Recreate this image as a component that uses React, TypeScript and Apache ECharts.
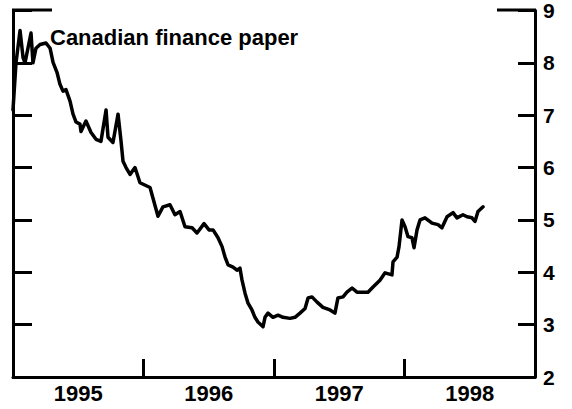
import React, { useEffect, useRef } from "react";
import * as echarts from "echarts";

const years = ["1995", "1996", "1997", "1998"];

// decimal year
const dates = [
  1995.0, 1995.023, 1995.054, 1995.077, 1995.092, 1995.138, 1995.153, 1995.176, 1995.207, 1995.253,
  1995.284, 1995.307, 1995.337, 1995.36, 1995.383, 1995.406, 1995.437, 1995.46, 1995.483, 1995.513,
  1995.521, 1995.559, 1995.598, 1995.636, 1995.674, 1995.713, 1995.728, 1995.766, 1995.805, 1995.828,
  1995.843, 1995.866, 1995.897, 1995.935, 1995.973, 1996.05, 1996.111, 1996.149, 1996.203, 1996.241,
  1996.28, 1996.318, 1996.372, 1996.41, 1996.464, 1996.502, 1996.533, 1996.571, 1996.602, 1996.625,
  1996.648, 1996.686, 1996.716, 1996.739, 1996.755, 1996.778, 1996.801, 1996.831, 1996.854, 1996.877,
  1996.916, 1996.931, 1996.954, 1996.992, 1997.031, 1997.069, 1997.123, 1997.161, 1997.199, 1997.238,
  1997.261, 1997.291, 1997.33, 1997.375, 1997.429, 1997.467, 1997.49, 1997.529, 1997.559, 1997.598,
  1997.636, 1997.682, 1997.72, 1997.759, 1997.812, 1997.851, 1997.904, 1997.912, 1997.943, 1997.958,
  1997.981, 1998.004, 1998.027, 1998.057, 1998.073, 1998.096, 1998.119, 1998.157, 1998.211, 1998.257,
  1998.287, 1998.326, 1998.372, 1998.402, 1998.448, 1998.479, 1998.517, 1998.54, 1998.563, 1998.602,
];

const rates = [
  7.1, 8.0, 8.62, 8.1, 8.0, 8.57, 8.0, 8.28, 8.35, 8.38,
  8.28, 8.01, 7.82, 7.59, 7.46, 7.49, 7.27, 7.02, 6.87, 6.83,
  6.69, 6.89, 6.67, 6.54, 6.5, 7.1, 6.58, 6.48, 7.02, 6.5,
  6.12, 6.0, 5.87, 6.0, 5.71, 5.62, 5.07, 5.25, 5.29, 5.1,
  5.16, 4.87, 4.85, 4.75, 4.93, 4.81, 4.81, 4.66, 4.49, 4.29,
  4.14, 4.1, 4.04, 4.08, 3.85, 3.6, 3.41, 3.28, 3.14, 3.05,
  2.96, 3.14, 3.22, 3.14, 3.18, 3.14, 3.12, 3.14, 3.22, 3.31,
  3.51, 3.53, 3.43, 3.33, 3.28, 3.22, 3.51, 3.53, 3.62, 3.7,
  3.62, 3.62, 3.62, 3.72, 3.85, 3.99, 3.95, 4.2, 4.29, 4.49,
  5.0, 4.87, 4.68, 4.66, 4.47, 4.81, 5.0, 5.04, 4.94, 4.91,
  4.85, 5.06, 5.14, 5.04, 5.1, 5.06, 5.04, 4.97, 5.16, 5.25,
];

const FONT = "'Liberation Sans', Arial, Helvetica, sans-serif";

export default function App() {
  const ref = useRef<HTMLDivElement>(null);
  useEffect(() => {
    if (!ref.current) return;
    const chart = echarts.init(ref.current, undefined, { renderer: "svg" });
    const black = "#000";
    chart.setOption({
      animation: false,
      backgroundColor: "#fff",
      title: {
        text: "Canadian finance paper",
        left: 50,
        top: 26,
        padding: 0,
        textStyle: { fontFamily: FONT, fontSize: 22, fontWeight: "bold", color: black },
      },
      grid: { left: 13, right: 37, top: 10, bottom: 32 },
      xAxis: [
        {
          type: "category",
          data: years,
          boundaryGap: true,
          position: "bottom",
          axisLine: { show: true, lineStyle: { color: black, width: 3 } },
          axisTick: { show: true, inside: true, length: 18, lineStyle: { color: black, width: 3 } },
          axisLabel: { fontFamily: FONT, fontSize: 22, fontWeight: "bold", color: black, margin: 5 },
          splitLine: { show: false },
        },
        { type: "value", min: 1995, max: 1999, show: false },
      ],
      yAxis: [
        {
          type: "value",
          min: 2,
          max: 9,
          interval: 1,
          position: "right",
          axisLine: { show: true, lineStyle: { color: black, width: 3 } },
          axisTick: { show: true, inside: true, length: 17, lineStyle: { color: black, width: 3 } },
          axisLabel: {
            fontFamily: FONT,
            fontSize: 21,
            fontWeight: "bold",
            color: black,
            margin: 8,
            padding: [9, 0, 0, 0],
          },
          splitLine: { show: false },
        },
        {
          type: "value",
          min: 2,
          max: 9,
          interval: 1,
          position: "left",
          axisLine: { show: true, lineStyle: { color: black, width: 3 } },
          axisTick: { show: true, inside: true, length: 19, lineStyle: { color: black, width: 3 } },
          axisLabel: { show: false },
          splitLine: { show: false },
        },
      ],
      graphic: [
        { type: "line", shape: { x1: 12, y1: 10, x2: 52, y2: 10 }, style: { stroke: black, lineWidth: 3 } },
        { type: "line", shape: { x1: 497, y1: 10, x2: 536, y2: 10 }, style: { stroke: black, lineWidth: 3 } },
      ],
      series: [
        {
          type: "line",
          xAxisIndex: 1,
          yAxisIndex: 0,
          data: dates.map((d, i) => [d, rates[i]]),
          symbol: "none",
          lineStyle: { color: black, width: 3.5, join: "round", cap: "round" },
        },
      ],
    });
    return () => chart.dispose();
  }, []);
  return (
    <div
      ref={ref}
      style={{ position: "absolute", left: 0, top: 0, width: 572, height: 409, background: "#fff" }}
    />
  );
}
